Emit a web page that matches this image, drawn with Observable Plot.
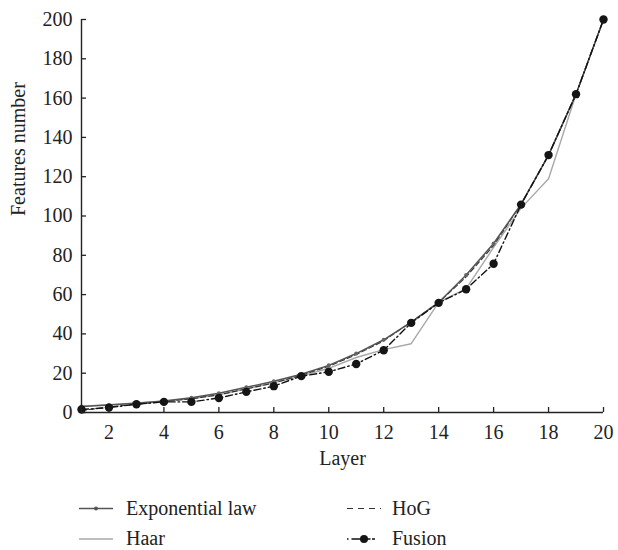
<!DOCTYPE html>
<html>
<head>
<meta charset="utf-8">
<script src="https://cdn.jsdelivr.net/npm/d3@7"></script>
<script src="https://cdn.jsdelivr.net/npm/@observablehq/plot@0.6"></script>
<style>
  body { margin: 0; background: #fff; }
  #chart { width: 618px; height: 550px; position: relative; font-family: "Liberation Serif", serif; }
  #chart svg { display: block; }
  #chart svg, #chart svg text, #chart svg g { font-family: "Liberation Serif", "DejaVu Serif", serif !important; }
</style>
</head>
<body>
<div id="chart"></div>
<script>
// ---- data ----
const layers = [1, 2, 3, 4, 5, 6, 7, 8, 9, 10, 11, 12, 13, 14, 15, 16, 17, 18, 19, 20];
const exponentialLaw = [3, 3.8, 4.7, 5.9, 7.5, 9.8, 12.8, 15.9, 19.5, 24, 30, 37, 46, 56, 70, 86, 106, 131, 162, 200];
const haar = [3.2, 4, 4.9, 5.8, 7, 9, 12, 15.2, 18.5, 22.5, 28, 32, 35, 56, 63, 84, 104, 119, 162, 200];
const hog = [1, 2.8, 4.2, 5.6, 7, 9, 12, 15, 19, 23.5, 29.5, 36.5, 46, 56, 69, 85, 106, 131, 162, 200];
const fusion = [1.5, 2.5, 4.2, 5.4, 5.4, 7.4, 10.5, 13.4, 18.5, 20.7, 24.7, 31.7, 45.6, 55.8, 62.7, 75.7, 105.8, 131, 162, 200];
const seriesNames = ["Exponential law", "Haar", "HoG", "Fusion"];
const xTicks = [2, 4, 6, 8, 10, 12, 14, 16, 18, 20];
const yTicks = [0, 20, 40, 60, 80, 100, 120, 140, 160, 180, 200];
const xLabel = "Layer";
const yLabel = "Features number";

const toRows = (vals) => layers.map((l, i) => ({layer: l, value: vals[i]}));
const expRows = toRows(exponentialLaw);
const haarRows = toRows(haar);
const hogRows = toRows(hog);
const fusionRows = toRows(fusion);

const ink = "#222";
const FONT = '"Liberation Serif", "DejaVu Serif", serif';

const plot = Plot.plot({
  width: 618,
  height: 490,
  marginLeft: 81,
  marginRight: 15,
  marginTop: 19,
  marginBottom: 78,
  style: {fontFamily: FONT, fontSize: "20px", color: ink, background: "white"},
  x: {domain: [1, 20]},
  y: {domain: [0, 200]},
  marks: [
    // data lines
    Plot.line(haarRows, {x: "layer", y: "value", stroke: "#a8a8a8", strokeWidth: 1.4}),
    Plot.line(hogRows, {x: "layer", y: "value", stroke: "#333", strokeWidth: 1.2, strokeDasharray: "5,3"}),
    Plot.line(expRows, {x: "layer", y: "value", stroke: "#555", strokeWidth: 1.5}),
    Plot.dot(expRows, {x: "layer", y: "value", r: 2, fill: "#666", stroke: "none"}),
    Plot.line(fusionRows, {x: "layer", y: "value", stroke: "#111", strokeWidth: 1.4, strokeDasharray: "7,3,1.5,3"}),
    Plot.dot(fusionRows, {x: "layer", y: "value", r: 4.2, fill: "#151515", stroke: "none"}),
    // axes lines
    Plot.ruleX([1], {stroke: ink, strokeWidth: 1.4}),
    Plot.ruleY([0], {stroke: ink, strokeWidth: 1.4}),
    // inward ticks
    Plot.axisY({ticks: yTicks, tickSize: 5, dx: 5, fill: "none", stroke: ink, strokeWidth: 1.3, label: null}),
    Plot.axisX({ticks: xTicks, tickSize: 5, dy: -5, fill: "none", stroke: ink, strokeWidth: 1.3, label: null}),
    // tick labels
    Plot.axisY({ticks: yTicks, tickSize: 0, tickPadding: 9, fill: ink, label: null, fontFamily: FONT}),
    Plot.axisX({ticks: xTicks, tickSize: 0, tickPadding: 12, fill: ink, label: null, fontFamily: FONT}),
    // axis titles
    Plot.text([xLabel], {frameAnchor: "bottom", dy: 52, text: d => d, fill: ink, fontSize: 20, fontFamily: FONT}),
    Plot.text([yLabel], {frameAnchor: "left", dx: -63, rotate: -90, text: d => d, fill: ink, fontSize: 20, fontFamily: FONT})
  ]
});
document.getElementById("chart").appendChild(plot);

// ---- legend below the plot ----
const legend = d3.create("svg")
  .attr("width", 618).attr("height", 60)
  .attr("font-family", FONT).attr("font-size", 20);
const slots = [
  {x: 79, y: 24.5}, {x: 79, y: 55}, {x: 347, y: 24.5}, {x: 347, y: 55}
];
seriesNames.forEach((name, i) => {
  const s = slots[i];
  const g = legend.append("g").attr("transform", `translate(${s.x},${s.y})`);
  const ly = -6;
  if (name === "Exponential law") {
    g.append("line").attr("x1", 0).attr("x2", 34).attr("y1", ly).attr("y2", ly).attr("stroke", "#555").attr("stroke-width", 1.5);
    g.append("circle").attr("cx", 17).attr("cy", ly).attr("r", 2).attr("fill", "#555");
  } else if (name === "Haar") {
    g.append("line").attr("x1", 0).attr("x2", 34).attr("y1", ly).attr("y2", ly).attr("stroke", "#a8a8a8").attr("stroke-width", 1.4);
  } else if (name === "HoG") {
    g.append("line").attr("x1", 0).attr("x2", 34).attr("y1", ly).attr("y2", ly).attr("stroke", "#333").attr("stroke-width", 1.2).attr("stroke-dasharray", "6,5");
  } else {
    g.append("line").attr("x1", 0).attr("x2", 34).attr("y1", ly).attr("y2", ly).attr("stroke", "#111").attr("stroke-width", 1.4).attr("stroke-dasharray", "1.5,3,10,4,5");
    g.append("circle").attr("cx", 17).attr("cy", ly).attr("r", 4).attr("fill", "#151515");
  }
  g.append("text").attr("x", s.x === 79 ? 47 : 45).attr("fill", ink).attr("font-family", FONT).text(name);
});
document.getElementById("chart").appendChild(legend.node());
</script>
</body>
</html>
